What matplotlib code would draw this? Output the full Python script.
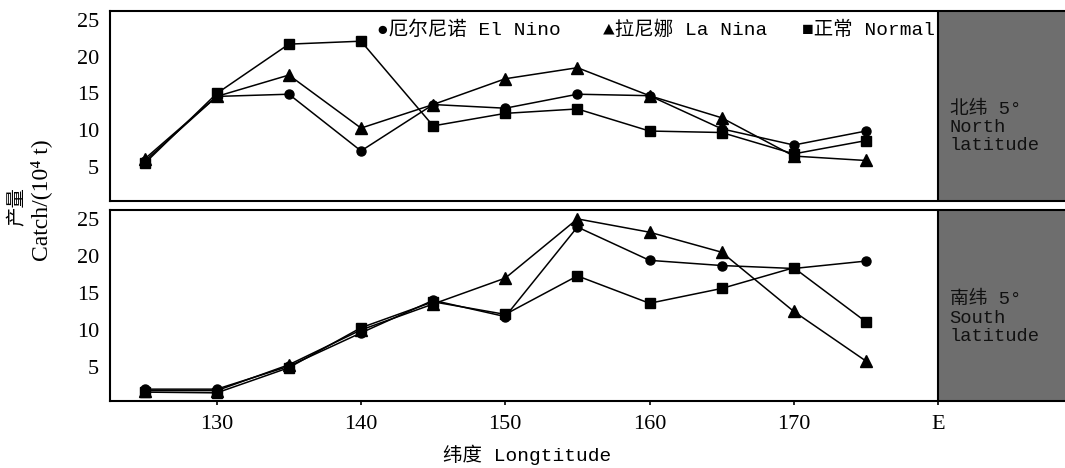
import matplotlib
matplotlib.use('Agg')
import matplotlib.pyplot as plt

# longitude points (degrees E)
lon = [125, 130, 135, 140, 145, 150, 155, 160, 165, 170, 175]

# catch (10^4 t), north 5 deg
north_elnino = [5.8, 14.6, 14.9, 7.2, 13.5, 13.0, 14.9, 14.7, 10.2, 8.0, 9.9]
north_lanina = [6.1, 14.6, 17.5, 10.3, 13.5, 17.0, 18.5, 14.7, 11.7, 6.5, 5.9]
north_normal = [5.5, 15.0, 21.7, 22.1, 10.6, 12.3, 12.9, 9.9, 9.7, 6.8, 8.6]

# catch (10^4 t), south 5 deg
south_elnino = [2.0, 2.0, 5.1, 9.6, 14.0, 11.8, 23.9, 19.4, 18.7, 18.3, 19.3]
south_lanina = [1.8, 1.8, 5.3, 10.0, 13.5, 17.0, 25.0, 23.2, 20.5, 12.5, 5.8]
south_normal = [1.6, 1.5, 4.9, 10.3, 13.8, 12.1, 17.3, 13.6, 15.6, 18.4, 11.1]

xticks = [130, 140, 150, 160, 170, 180]
xticklabels = ['130', '140', '150', '160', '170', 'E']
yticks = [5, 10, 15, 20, 25]

mono = ['Liberation Mono', 'Noto Sans CJK SC', 'DejaVu Sans']
serif = ['Liberation Serif', 'DejaVu Serif']

fig = plt.figure(figsize=(10.65, 4.68), dpi=100)
ax_top = fig.add_axes([110 / 1065, 1 - 201 / 468, 1 - 110 / 1065, 190 / 468])
ax_bot = fig.add_axes([110 / 1065, 1 - 401 / 468, 1 - 110 / 1065, 191 / 468])

panels = [
    (ax_top, north_elnino, north_lanina, north_normal, '北纬 5°\nNorth\nlatitude', 10.4),
    (ax_bot, south_elnino, south_lanina, south_normal, '南纬 5°\nSouth\nlatitude', 11.6),
]

for ax, e, l, n, label, ly in panels:
    ax.plot(lon, e, color='black', lw=1.1, marker='o', ms=6.5)
    ax.plot(lon, l, color='black', lw=1.1, marker='^', ms=8)
    ax.plot(lon, n, color='black', lw=1.1, marker='s', ms=7)

    # gray side panel east of 180
    ax.axvspan(180, 190, color='#6e6e6e', zorder=1.5)
    ax.axvline(180, color='black', lw=1.5, zorder=1.6)
    ax.text(180.8, ly, label, fontsize=13.5, family=mono, color='#111111',
            va='center', ha='left', linespacing=1.1, zorder=2)

    ax.set_xlim(122.6, 188.8)
    ax.set_ylim(0.4, 26.2)
    ax.set_yticks(yticks)
    ax.set_yticklabels([str(v) for v in yticks], fontsize=16, family=serif)
    ax.set_xticks(xticks)
    for s in ax.spines.values():
        s.set_linewidth(1.5)
    ax.spines['right'].set_visible(False)
    ax.tick_params(axis='y', length=0, pad=8)

ax_top.tick_params(axis='x', length=0, labelbottom=False)
ax_bot.set_xticklabels(xticklabels, fontsize=16, family=serif)
ax_bot.tick_params(axis='x', length=3, width=1.2, pad=7)

# legend entries along the top of the north panel (clipped by the gray panel)
legend_items = [(141.1, '●厄尔尼诺 El Nino'), (156.8, '▲拉尼娜 La Nina'), (170.6, '■正常 Normal')]
for x, txt in legend_items:
    ax_top.text(x, 23.6, txt, fontsize=14, family=mono, va='center', ha='left',
                zorder=1, clip_on=True)

fig.text(527 / 1065, 1 - 455 / 468, '纬度 Longtitude', fontsize=14, family=mono,
         ha='center', va='center')
fig.text(18 / 1065, 1 - 207 / 468, '产量', fontsize=14, family=mono,
         ha='center', va='center', rotation=90)
fig.text(41 / 1065, 1 - 200 / 468, 'Catch/(10⁴ t)', fontsize=17, family=serif,
         ha='center', va='center', rotation=90)

fig.savefig('out.png', dpi=100)
